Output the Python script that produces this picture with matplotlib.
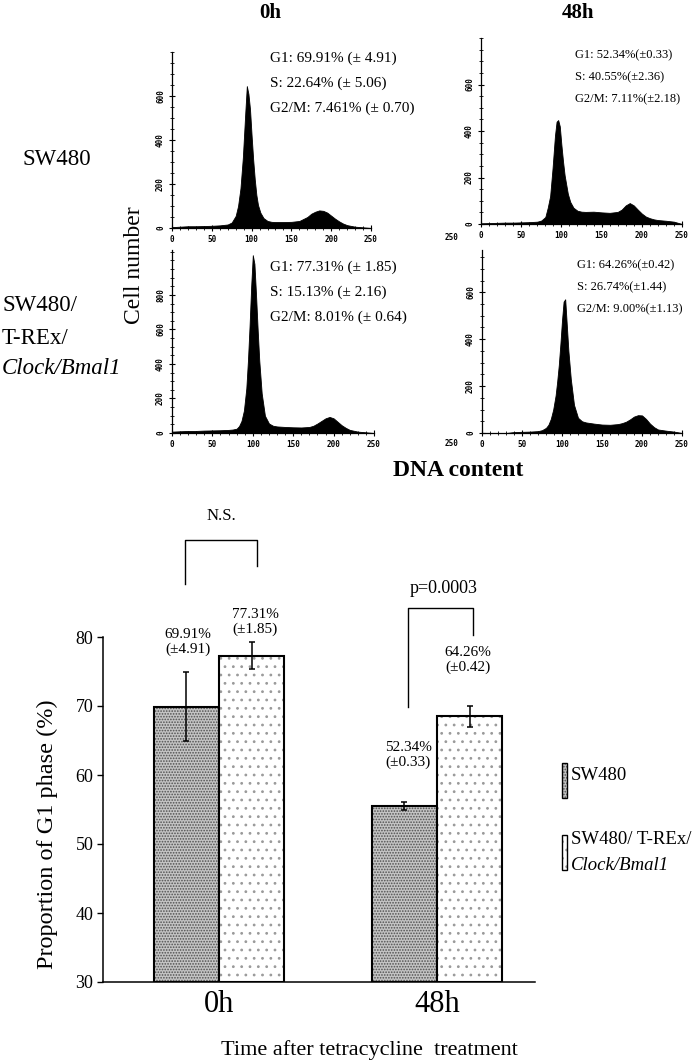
import matplotlib
matplotlib.use('Agg')
import matplotlib.pyplot as plt
from matplotlib.patches import Rectangle
from matplotlib.ticker import MultipleLocator
import numpy as np

plt.rcParams['font.family'] = ['Liberation Serif', 'DejaVu Serif']
plt.rcParams['hatch.linewidth'] = 0.8

# ---------------- data ----------------
# DNA content channels (x of the flow-cytometry histograms)
channels = [0, 10, 20, 30, 40, 50, 60, 70, 75, 80, 83, 86, 89, 92, 94, 96, 98, 100,
            102, 104, 106, 108, 111, 115, 120, 125, 130, 140, 150, 160, 170, 175,
            180, 185, 190, 195, 200, 205, 210, 215, 220, 230, 240, 250]
# cell counts
sw480_0h = [4, 6, 8, 8, 9, 10, 12, 16, 25, 55, 100, 180, 320, 520, 645, 610, 540, 420,
            310, 220, 150, 105, 70, 45, 32, 28, 27, 27, 28, 32, 50, 65,
            74, 80, 78, 70, 56, 42, 30, 20, 13, 6, 3, 0]
clock_0h = [8, 10, 12, 12, 14, 15, 16, 18, 20, 25, 40, 70, 130, 260, 420, 620, 850, 1030,
            980, 800, 600, 420, 230, 100, 55, 42, 38, 35, 33, 32, 35, 42,
            55, 70, 85, 93, 85, 65, 45, 30, 18, 8, 4, 0]
sw480_48h = [3, 4, 5, 6, 6, 7, 8, 10, 15, 30, 70, 120, 240, 380, 440, 447, 420, 340,
             270, 210, 170, 130, 95, 70, 57, 53, 52, 53, 50, 48, 52, 62,
             80, 90, 80, 62, 45, 32, 25, 20, 17, 14, 10, 0]
clock_48h = [0, 0, 0, 0, 4, 5, 6, 8, 12, 22, 35, 60, 100, 160, 220, 290, 380, 480,
             560, 570, 460, 350, 230, 120, 65, 50, 45, 40, 36, 35, 38, 42,
             48, 58, 70, 76, 75, 60, 40, 25, 15, 10, 6, 0]

hist_stats = {
    'sw480_0h': ['G1: 69.91% (\u00b1 4.91)', 'S: 22.64% (\u00b1 5.06)', 'G2/M: 7.461% (\u00b1 0.70)'],
    'clock_0h': ['G1: 77.31% (\u00b1 1.85)', 'S: 15.13% (\u00b1 2.16)', 'G2/M: 8.01% (\u00b1 0.64)'],
    'sw480_48h': ['G1: 52.34%(\u00b10.33)', 'S: 40.55%(\u00b12.36)', 'G2/M: 7.11%(\u00b12.18)'],
    'clock_48h': ['G1: 64.26%(\u00b10.42)', 'S: 26.74%(\u00b11.44)', 'G2/M: 9.00%(\u00b11.13)'],
}

# bar chart
groups = ['0h', '48h']
sw480_g1 = [69.91, 55.5]
sw480_err = [4.95, 0.6]
clock_g1 = [77.31, 68.5]
clock_err = [1.9, 1.5]
sw480_labels = ['69.91%\n(\u00b14.91)', '52.34%\n(\u00b10.33)']
clock_labels = ['77.31%\n(\u00b11.85)', '64.26%\n(\u00b10.42)']
y_ticks = [30, 40, 50, 60, 70, 80]

# ---------------- figure ----------------
W, H = 694, 1063
fig = plt.figure(figsize=(W / 100, H / 100), dpi=100)


def fx(px):
    return px / W


def fy(py):
    return 1 - py / H


def hist_axes(left, right, top, base, ymax, yticks, counts):
    ax = fig.add_axes([fx(left), fy(base), (right - left) / W, (base - top) / H])
    ax.fill_between(channels, counts, color='black', lw=0.6)
    ax.set_xlim(0, 250)
    ax.set_ylim(0, ymax)
    for s in ['top', 'right']:
        ax.spines[s].set_visible(False)
    for s in ['left', 'bottom']:
        ax.spines[s].set_linewidth(0.9)
    ax.set_xticks([0, 50, 100, 150, 200, 250])
    ax.xaxis.set_minor_locator(MultipleLocator(10))
    ax.set_yticks(yticks)
    ax.yaxis.set_minor_locator(MultipleLocator(50))
    ax.tick_params(axis='both', which='major', length=4, width=0.8, direction='inout',
                   labelsize=5.5, pad=3)
    ax.tick_params(axis='both', which='minor', length=2.5, width=0.6, direction='inout')
    ax.tick_params(axis='y', labelrotation=90)
    for lab in ax.get_xticklabels() + ax.get_yticklabels():
        lab.set_fontfamily('DejaVu Sans Mono')
        lab.set_fontweight('bold')
    for lab in ax.get_yticklabels():
        lab.set_va('center')
    ax.patch.set_alpha(0)
    return ax


hist_axes(172, 371, 52, 228, 800, [0, 200, 400, 600], sw480_0h)
hist_axes(172, 374, 250, 433, 1060, [0, 200, 400, 600, 800], clock_0h)
hist_axes(481, 682, 38, 224, 800, [0, 200, 400, 600], sw480_48h)
hist_axes(482, 682, 250, 433, 780, [0, 200, 400, 600], clock_48h)


def stat_block(x, y0, dy, lines, size):
    for i, t in enumerate(lines):
        fig.text(fx(x), fy(y0 + i * dy), t, fontsize=size, ha='left', va='center')


stat_block(270, 58, 25, hist_stats['sw480_0h'], 11)
stat_block(270, 267, 25, hist_stats['clock_0h'], 11)
stat_block(575, 55, 22, hist_stats['sw480_48h'], 9)
stat_block(577, 265, 22, hist_stats['clock_48h'], 9)

# stray axis labels of the 48h panels
for yy in (238, 443):
    fig.text(fx(452), fy(yy), '250', fontsize=5.5, fontweight='bold',
             fontfamily='DejaVu Sans Mono', ha='center', va='center')

# titles and row labels
fig.text(fx(270), fy(13), '0h', fontsize=15, fontweight='bold', ha='center', va='center')
fig.text(fx(578), fy(13), '48h', fontsize=15, fontweight='bold', ha='center', va='center')
fig.text(fx(57), fy(160), 'SW480', fontsize=16.5, ha='center', va='center')
fig.text(fx(2), fy(305), 'SW480/', fontsize=16.5, ha='left', va='center')
fig.text(fx(2), fy(338), 'T-REx/', fontsize=16.5, ha='left', va='center')
fig.text(fx(2), fy(369), 'Clock/Bmal1', fontsize=16.5, ha='left', va='center',
         fontstyle='italic')
fig.text(fx(135), fy(265), 'Cell number', fontsize=17, rotation=90, ha='center', va='center')
fig.text(fx(458), fy(470), 'DNA content', fontsize=17, fontweight='bold', ha='center', va='center')

# ---------------- bar chart ----------------
bx = fig.add_axes([fx(103), fy(982), 432 / W, (982 - 637) / H])
pos = np.arange(len(groups))
wd = 0.3
bx.bar(pos - 0.15, np.array(sw480_g1) - 30, wd, bottom=30, facecolor='#c4c4c4',
       edgecolor='#505050', hatch='......', lw=0)
bx.bar(pos - 0.15, np.array(sw480_g1) - 30, wd, bottom=30, facecolor='none',
       edgecolor='black', lw=1.5)
bx.bar(pos + 0.15, np.array(clock_g1) - 30, wd, bottom=30, facecolor='white',
       edgecolor='#9a9a9a', hatch='..', lw=0)
bx.bar(pos + 0.15, np.array(clock_g1) - 30, wd, bottom=30, facecolor='none',
       edgecolor='black', lw=1.5)
bx.errorbar(pos - 0.15, sw480_g1, yerr=sw480_err, fmt='none', ecolor='black',
            elinewidth=1.1, capsize=2.5, capthick=1.1)
bx.errorbar(pos + 0.15, clock_g1, yerr=clock_err, fmt='none', ecolor='black',
            elinewidth=1.1, capsize=2.5, capthick=1.1)
bx.set_xlim(-0.532, 1.45)
bx.set_ylim(30, 80)
bx.set_yticks(y_ticks)
bx.set_xticks(pos)
bx.set_xticklabels(groups, fontsize=22)
bx.tick_params(axis='x', length=0, pad=6)
bx.tick_params(axis='y', labelsize=13, length=4, width=1, pad=3)
for s in ['top', 'right']:
    bx.spines[s].set_visible(False)
for s in ['left', 'bottom']:
    bx.spines[s].set_linewidth(1.1)
fig.text(fx(47), fy(834), 'Proportion of G1 phase (%)', fontsize=17.5, rotation=90,
         ha='center', va='center')
fig.text(fx(369), fy(1050), 'Time after tetracycline  treatment', fontsize=16,
         ha='center', va='center')

# value annotations
fig.text(fx(188), fy(642), sw480_labels[0], fontsize=11, ha='center', va='center', linespacing=1.2)
fig.text(fx(255), fy(622), clock_labels[0], fontsize=11, ha='center', va='center', linespacing=1.2)
fig.text(fx(408), fy(755), sw480_labels[1], fontsize=11, ha='center', va='center', linespacing=1.2)
fig.text(fx(468), fy(660), clock_labels[1], fontsize=11, ha='center', va='center', linespacing=1.2)

# significance brackets (data coords, above axes)
bx.plot([-0.156, -0.156, 0.174, 0.174], [87.7, 94.06, 94.06, 90.3], color='black',
        lw=1, clip_on=False)
bx.text(0.01, 97.5, 'N.S.', fontsize=12, ha='center', va='center')
bx.plot([0.867, 0.867, 1.165, 1.165], [69.9, 84.2, 84.2, 80.3], color='black',
        lw=1, clip_on=False)
bx.text(1.03, 87.1, 'p=0.0003', fontsize=13, ha='center', va='center')

# legend
fig.add_artist(Rectangle((fx(562), fy(798)), 5 / W, 35 / H, transform=fig.transFigure,
                         facecolor='#c4c4c4', edgecolor='#505050', hatch='......', lw=0))
fig.add_artist(Rectangle((fx(562), fy(798)), 5 / W, 35 / H, transform=fig.transFigure,
                         facecolor='none', edgecolor='black', lw=1))
fig.add_artist(Rectangle((fx(562), fy(870)), 5 / W, 35 / H, transform=fig.transFigure,
                         facecolor='white', edgecolor='#9a9a9a', hatch='..', lw=0))
fig.add_artist(Rectangle((fx(562), fy(870)), 5 / W, 35 / H, transform=fig.transFigure,
                         facecolor='none', edgecolor='black', lw=1))
fig.text(fx(571), fy(776), 'SW480', fontsize=13.5, ha='left', va='center')
fig.text(fx(571), fy(840), 'SW480/ T-REx/', fontsize=13.5, ha='left', va='center')
fig.text(fx(571), fy(866), 'Clock/Bmal1', fontsize=13.5, ha='left', va='center',
         fontstyle='italic')

fig.savefig('out.png', dpi=100)
